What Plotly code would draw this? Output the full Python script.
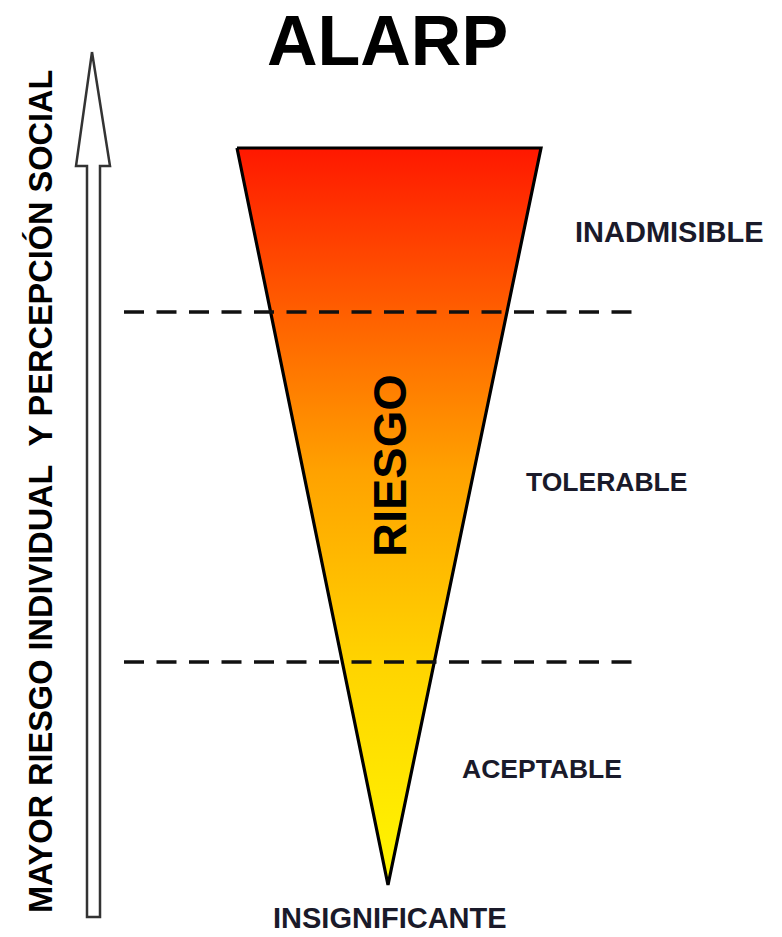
import plotly.graph_objects as go

# The page body has an 8px margin: figure placed at (8, 8)
W, H = 766, 921
OFF = 8
REF_H = 937

# ---- content ----
title = "ALARP"
axis_text = "MAYOR RIESGO INDIVIDUAL\u00a0\u00a0Y PERCEPCIÓN SOCIAL"
center_text = "RIESGO"
zones = ["INADMISIBLE", "TOLERABLE", "ACEPTABLE"]
bottom_label = "INSIGNIFICANTE"

# risk levels (vertical, measured upward from bottom of canvas)
tip_level = 52
top_level = 789
boundary_levels = [625, 275]          # INADMISIBLE/TOLERABLE, TOLERABLE/ACEPTABLE
zone_label_levels = [705, 455, 168]
bottom_label_level = 19
title_level = 896

# horizontal extents
tri_top_x = [237, 541]
tri_tip_x = 388
dash_x = [124, 632]
zone_label_x = [669, 606, 542]
zone_label_sizes = [29, 26.5, 26.5]

# upward arrow (left)
arrow_tip = (92, 885)
arrow_head_base = 771
arrow_head_x = [76, 110]
arrow_shaft_x = [87, 100]
arrow_bottom = 20

fig = go.Figure()

# Gradient triangle
fig.add_trace(go.Scatter(
    x=[tri_top_x[0], tri_top_x[1], tri_tip_x, tri_top_x[0]],
    y=[top_level, top_level, tip_level, top_level],
    mode="lines", fill="toself",
    line=dict(color="black", width=3.2),
    fillgradient=dict(
        type="vertical",
        colorscale=[[0.0, "#FFF600"], [0.30, "#FFD400"], [0.56, "#FFA200"],
                    [0.78, "#FF5E00"], [1.0, "#FF1800"]],
    ),
    hoverinfo="skip", showlegend=False,
))

# Dashed boundaries
for lv in boundary_levels:
    fig.add_trace(go.Scatter(
        x=dash_x, y=[lv, lv], mode="lines",
        line=dict(color="#111111", width=3.6, dash="20px,12.5px"),
        hoverinfo="skip", showlegend=False,
    ))

# Arrow
ax = [arrow_tip[0], arrow_head_x[1], arrow_shaft_x[1], arrow_shaft_x[1],
      arrow_shaft_x[0], arrow_shaft_x[0], arrow_head_x[0], arrow_tip[0]]
ay = [arrow_tip[1], arrow_head_base, arrow_head_base, arrow_bottom,
      arrow_bottom, arrow_head_base, arrow_head_base, arrow_tip[1]]
fig.add_trace(go.Scatter(
    x=ax, y=ay, mode="lines", fill="toself", fillcolor="white",
    line=dict(color="#333333", width=2.5),
    hoverinfo="skip", showlegend=False,
))

FONT = "Liberation Sans, Arial"
ann = []
ann.append(dict(x=387, y=title_level, text=f"<b>{title}</b>", showarrow=False,
                font=dict(family=FONT, size=70, color="black")))
ann.append(dict(x=40, y=REF_H - 492, text=f"<b>{axis_text}</b>",
                showarrow=False, textangle=-90,
                font=dict(family=FONT, size=32.5, color="black")))
ann.append(dict(x=389, y=REF_H - 466, text=f"<b>{center_text}</b>", showarrow=False, textangle=-90,
                font=dict(family=FONT, size=47, color="black")))
for lab, lx, ly, fs in zip(zones, zone_label_x, zone_label_levels, zone_label_sizes):
    ann.append(dict(x=lx, y=ly, text=f"<b>{lab}</b>", showarrow=False,
                    font=dict(family=FONT, size=fs, color="#1a1a2a")))
ann.append(dict(x=390, y=bottom_label_level, text=f"<b>{bottom_label}</b>", showarrow=False,
                font=dict(family=FONT, size=29, color="#1a1a2a")))

fig.update_layout(
    width=W, height=H,
    margin=dict(l=0, r=0, t=0, b=0),
    paper_bgcolor="white", plot_bgcolor="white",
    xaxis=dict(range=[OFF, OFF + W], visible=False, fixedrange=True),
    yaxis=dict(range=[REF_H - OFF - H, REF_H - OFF], visible=False, fixedrange=True),
    annotations=ann,
    showlegend=False,
)

fig.write_html("out.html")
